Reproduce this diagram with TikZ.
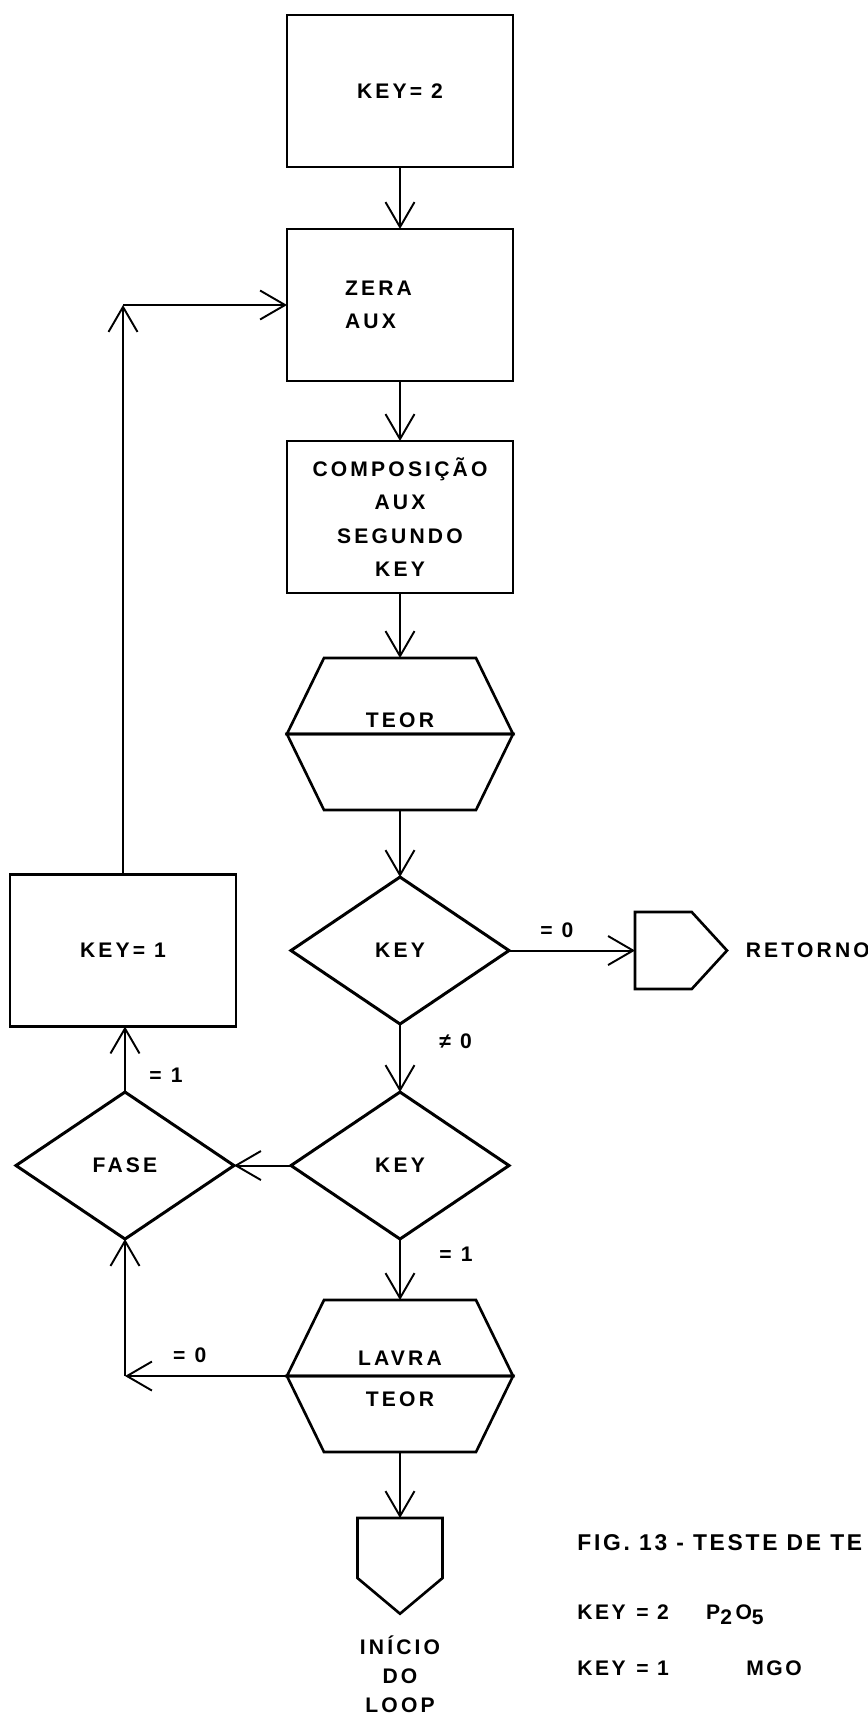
\documentclass[tikz,border=0pt]{standalone}
\usepackage{fontspec}
\setmainfont{Liberation Sans}
\newfontfamily\lettering[LetterSpace=15]{Liberation Sans}
\newfontfamily\captionfont[LetterSpace=12]{Liberation Sans}
\usetikzlibrary{arrows.meta, positioning, shapes.geometric, shapes.symbols}

\begin{document}
\begin{tikzpicture}[
    box/.style={rectangle, draw, line width=1.5pt, minimum width=4.52cm,
                minimum height=3.04cm, inner sep=4pt, outer sep=0pt, align=center,
                font=\lettering\bfseries\fontsize{12}{19}\selectfont},
    decision/.style={diamond, draw, line width=1.7pt, aspect=1.47,
                minimum width=4.36cm, minimum height=2.94cm, inner sep=0pt,
                outer sep=0pt, font=\lettering\bfseries\fontsize{12}{19}\selectfont},
    halftop/.style={trapezium, draw, line width=1.5pt, trapezium left angle=64,
                trapezium right angle=64, text width=3.04cm, align=center,
                inner sep=0pt, outer sep=0pt,
                font=\lettering\bfseries\fontsize{12}{19}\selectfont},
    halfbot/.style={halftop, trapezium left angle=116, trapezium right angle=116},
    term/.style={signal, draw, line width=1.5pt, inner sep=0pt, outer sep=0pt},
    txt/.style={font=\lettering\bfseries\fontsize{12}{16.5}\selectfont, align=center, inner sep=2pt},
    lbl/.style={font=\lettering\bfseries\fontsize{12}{14}\selectfont, inner sep=2pt},
    captxt/.style={font=\captionfont\bfseries\fontsize{13}{16}\selectfont, anchor=west, inner sep=0pt},
    arrow/.style={-{Straight Barb[length=5mm, width=5.8mm]}, line width=1.1pt},
]
    \useasboundingbox (0,0) rectangle (17.36,-34.34);

    % --- main column ---
    \node[box] (keytwo) at (8,-1.82) {KEY= 2};
    \node[box, align=left, text width=2.2cm] (zera) [below=1.24cm of keytwo] {ZERA\\AUX};
    \node[box] (comp)   [below=1.2cm of zera] {COMPOSIÇÃO\\AUX\hspace*{0.9cm}\\SEGUNDO\\KEY};
    \node[halftop, text height=1.39cm, text depth=0.13cm] (teor) [below=1.3cm of comp] {TEOR};
    \node[halfbot, text height=1.52cm, text depth=0cm] (teorb) [below=0cm of teor] {};

    \node[decision] (keya) [below=1.34cm of teorb] {KEY};
    \node[decision] (keyb) [below=1.36cm of keya] {KEY};

    \node[halftop, text height=1.3cm, text depth=0.22cm] (lavra) [below=1.22cm of keyb] {LAVRA};
    \node[halfbot, text height=0.6cm, text depth=0.92cm] (lavrab) [below=0cm of lavra] {TEOR};

    \node[term, signal to=south, signal pointer angle=100, minimum width=1.7cm,
          minimum height=1.2cm] (inicio) [below=1.32cm of lavrab] {};
    \node[txt] (iniciotxt) [below=0.36cm of inicio] {INÍCIO\\DO\\LOOP};

    % --- side branches ---
    \node[term, signal to=east, signal pointer angle=95, minimum width=1.84cm,
          minimum height=1.54cm] (retorno) [right=2.52cm of keya] {};
    \node[lbl] (retornotxt) [right=0.3cm of retorno] {RETORNO};
    \node[box] (keyone) [left=1.1cm of keya] {KEY= 1};
    \node[decision] (fase) [left=1.14cm of keyb] {FASE};

    \coordinate (looptop) at (keyone.north |- zera.west);
    \coordinate (loopbot) at (fase.south |- lavra.bottom left corner);

    % --- connectors ---
    \draw[arrow] (keytwo) -- (zera);
    \draw[arrow] (zera) -- (comp);
    \draw[arrow] (comp) -- (teor);
    \draw[arrow] (teorb) -- (keya);
    \draw[arrow] (keya) -- node[lbl, above=5pt, pos=0.38] (eqzero) {= 0} (retorno);
    \draw[arrow] (keya) -- node[lbl, right=0.7cm, pos=0.25] (neqzero) {≠ 0} (keyb);
    \draw[arrow] (keyb) -- (fase);
    \draw[arrow] (keyb) -- node[lbl, right=0.7cm, pos=0.25] (eqoneb) {= 1} (lavra);
    \draw[arrow] (lavrab) -- (inicio);
    \draw[arrow] (fase) -- node[lbl, right=0.4cm, pos=0.26] (eqone) {= 1} (fase |- keyone.south);
    \draw[arrow] (keyone) -- (looptop);
    \draw[arrow] (looptop) -- (zera);
    \draw[arrow] (lavra.bottom left corner) -- node[lbl, above=5pt, pos=0.6] (eqzerob) {= 0} (loopbot);
    \draw[arrow] (loopbot) -- (fase);

    % --- caption ---
    \node[captxt] (capfig) at (11.54,-30.86) {FIG. 13 - TESTE DE TE};
    \node[captxt, font=\captionfont\bfseries\fontsize{12}{14}\selectfont] (capkeyb)
        [below=1.44cm of capfig.west, anchor=west]
        {KEY\enspace= 2\hspace{0.75cm}P\raisebox{-0.45ex}{2}\,O\raisebox{-0.45ex}{5}};
    \node[captxt, font=\captionfont\bfseries\fontsize{12}{14}\selectfont] (capkeya)
        [below=1.06cm of capkeyb.west, anchor=west] {KEY\enspace= 1\hspace{1.55cm}MGO};
\end{tikzpicture}
\end{document}
